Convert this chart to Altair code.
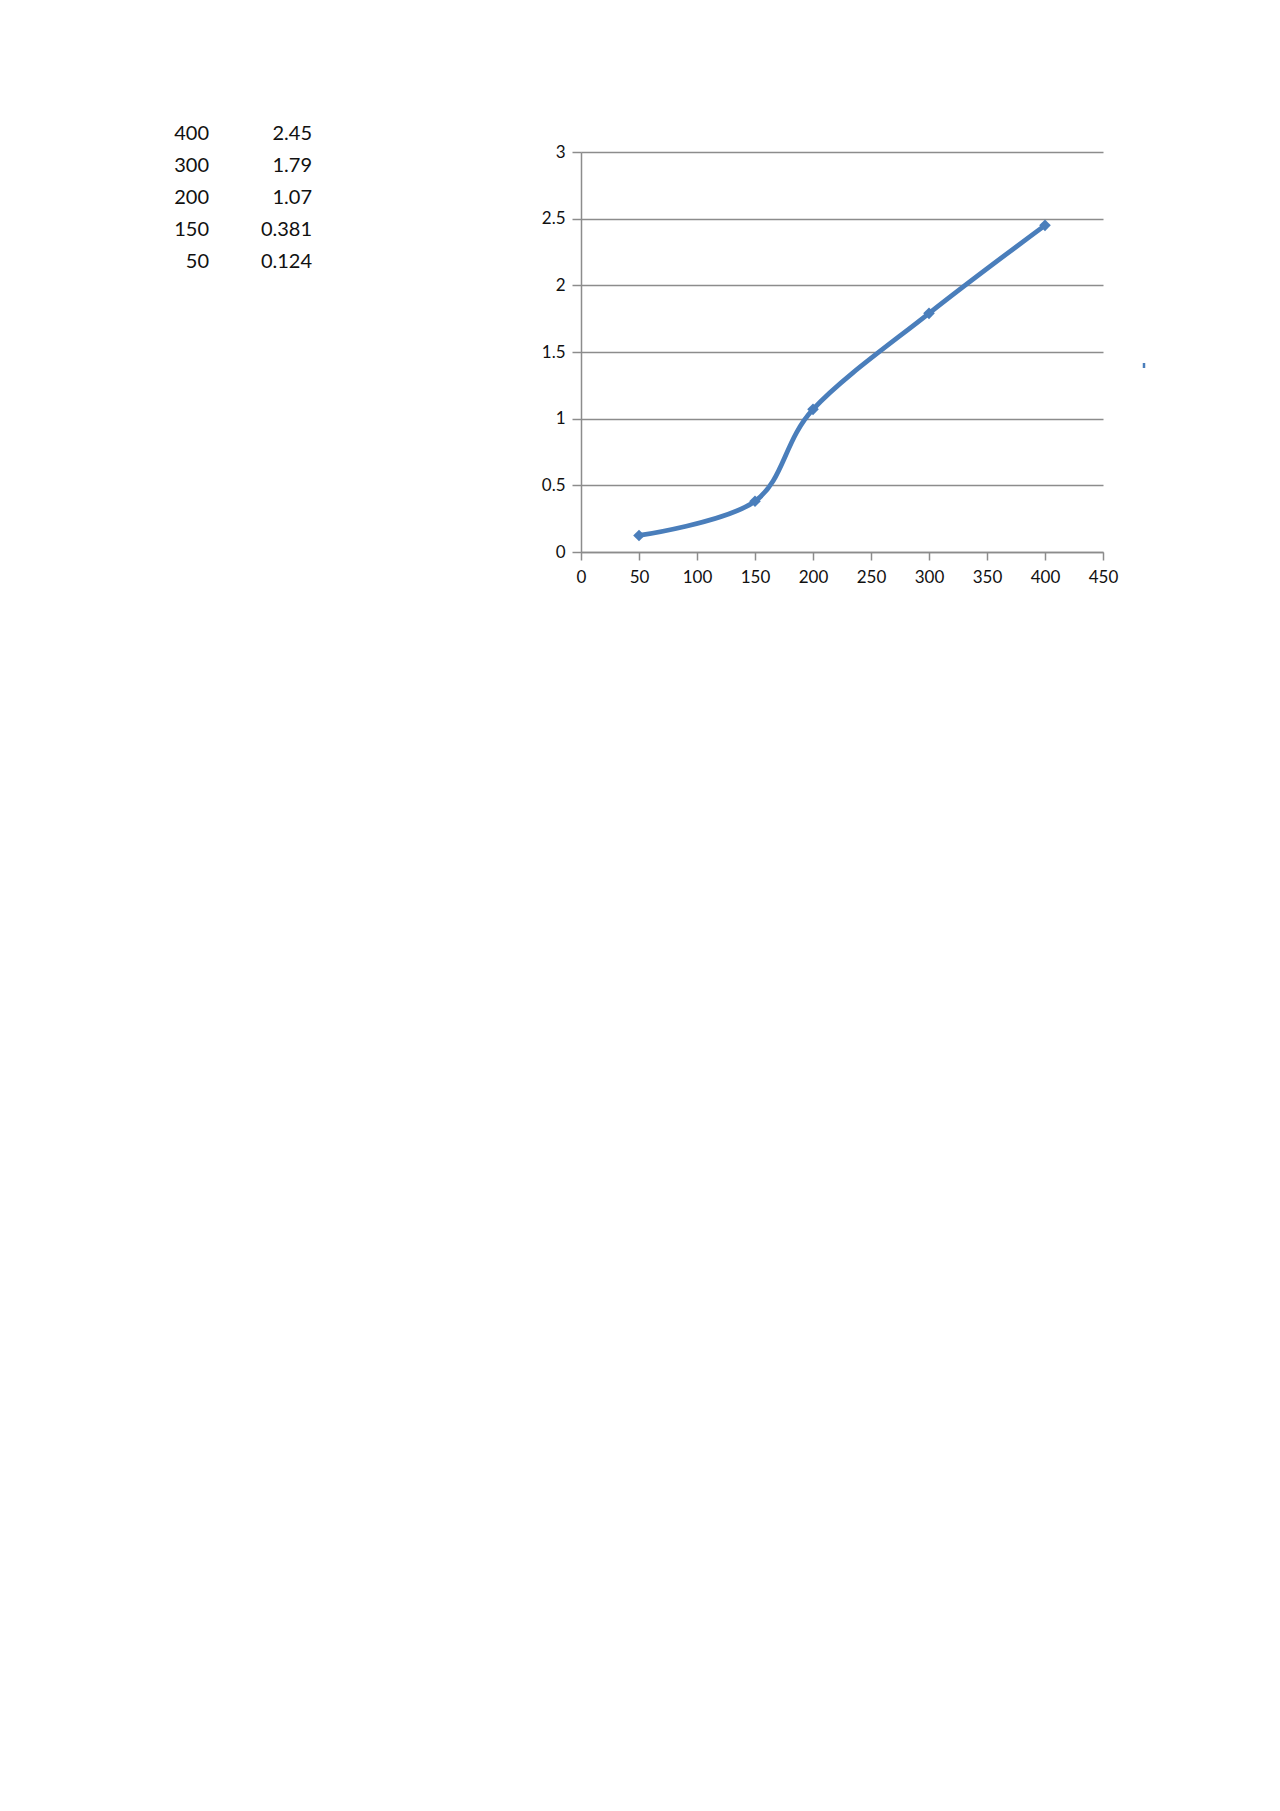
import altair as alt
import pandas as pd

# data
x_vals = [400, 300, 200, 150, 50]
y_vals = [2.45, 1.79, 1.07, 0.381, 0.124]
y_text = ["2.45", "1.79", "1.07", "0.381", "0.124"]

x_ticks = [0, 50, 100, 150, 200, 250, 300, 350, 400, 450]
y_ticks = [0, 0.5, 1, 1.5, 2, 2.5, 3]

LINE_COLOR = "#4A7EBB"
GRID_COLOR = "#8C8C8C"
FONT = "Lato"
TEXT_COLOR = "#111111"

series = pd.DataFrame({"x": x_vals, "y": y_vals}).sort_values("x")

rows = []
for i, (xv, yt) in enumerate(zip(x_vals, y_text)):
    rows.append({"row": i, "col": 0, "label": str(xv)})
    rows.append({"row": i, "col": 1, "label": yt})
table_df = pd.DataFrame(rows)

W, H = 522, 400
LEFT, TOP = 573, 144

xs = alt.Scale(domain=[0, 450], nice=False, zero=True)
ys = alt.Scale(domain=[0, 3], nice=False, zero=True)

ax_x = alt.Axis(orient="bottom", values=x_ticks, grid=False, tickSize=8, labelPadding=9,
                labelFontSize=17, labelFont=FONT, labelColor=TEXT_COLOR,
                domainColor=GRID_COLOR, tickColor=GRID_COLOR, format="d",
                domainWidth=1.5, tickWidth=1.5, labelFlush=False,
                labelOverlap=False, title=None)
ax_y = alt.Axis(orient="left", values=y_ticks, grid=True, gridColor=GRID_COLOR,
                gridWidth=1.5, gridOpacity=1, tickSize=9, labelPadding=7,
                labelFontSize=17, labelFont=FONT, labelColor=TEXT_COLOR,
                domainColor=GRID_COLOR, tickColor=GRID_COLOR, format="~g",
                domainWidth=1.5, tickWidth=1.5, labelFlush=False,
                labelOverlap=False, title=None)

line = alt.Chart(series).mark_line(
    interpolate="cardinal", tension=0, color=LINE_COLOR, strokeWidth=4.8
).encode(
    x=alt.X("x:Q", scale=xs, axis=ax_x),
    y=alt.Y("y:Q", scale=ys, axis=ax_y),
)

points = alt.Chart(series).mark_point(
    shape="diamond", filled=True, size=135, color=LINE_COLOR, opacity=1
).encode(
    x=alt.X("x:Q", scale=xs, axis=ax_x),
    y=alt.Y("y:Q", scale=ys, axis=ax_y),
)

table = alt.Chart(table_df).mark_text(
    align="right", baseline="middle", font=FONT, fontSize=20, color=TEXT_COLOR
).encode(
    x=alt.X("col:Q", axis=None,
            scale=alt.Scale(domain=[0, 1], range=[209 - 581, 312 - 581])),
    y=alt.Y("row:Q", axis=None,
            scale=alt.Scale(domain=[0, 4], range=[134 - 152, 262 - 152])),
    text="label:N",
)

blip = alt.Chart(pd.DataFrame({"a": [0]})).mark_rule(
    color=LINE_COLOR, strokeWidth=2.5
).encode(x=alt.value(563), y=alt.value(211), y2=alt.value(216))

inner = alt.layer(line, points)

chart = alt.layer(inner, table, blip).resolve_scale(
    x="independent", y="independent"
).properties(
    width=W, height=H,
    background="white",
    autosize=alt.AutoSizeParams(type="none"),
    padding={"left": LEFT, "top": TOP, "right": 150, "bottom": 80},
).configure_view(stroke="transparent", strokeWidth=0)

chart.save("out.html", embed_options={"renderer": "svg", "actions": False})
